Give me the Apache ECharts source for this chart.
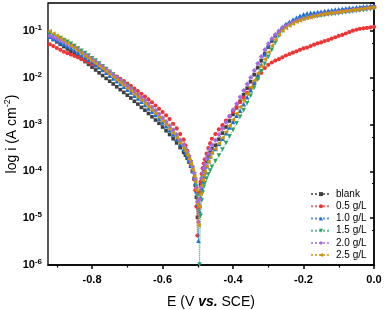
<!DOCTYPE html>
<html><head><meta charset="utf-8">
<script src="https://cdn.jsdelivr.net/npm/echarts@6/dist/echarts.min.js"></script>
<style>html,body{margin:0;padding:0;background:#fff}#c{width:387px;height:310px}</style>
</head><body><div id="c"></div>
<script>
// Potential grid (V vs. SCE)
const potential = [-0.92,-0.91,-0.90,-0.89,-0.88,-0.87,-0.86,-0.85,-0.84,-0.83,-0.82,-0.81,-0.80,-0.79,-0.78,-0.77,-0.76,-0.75,-0.74,-0.73,-0.72,-0.71,-0.70,-0.69,-0.68,-0.67,-0.66,-0.65,-0.64,-0.63,-0.62,-0.61,-0.60,-0.59,-0.58,-0.57,-0.56,-0.55,-0.54,
-0.535,-0.53,-0.525,-0.52,-0.515,-0.51,-0.507,-0.504,-0.501,-0.498,-0.495,-0.492,-0.489,-0.486,-0.483,-0.48,-0.475,-0.47,-0.465,-0.46,
-0.45,-0.44,-0.43,-0.42,-0.41,-0.40,-0.39,-0.38,-0.37,-0.36,-0.35,-0.34,-0.33,-0.32,-0.31,-0.30,-0.29,-0.28,-0.27,-0.26,-0.25,-0.24,-0.23,-0.22,-0.21,-0.20,-0.19,-0.18,-0.17,-0.16,-0.15,-0.14,-0.13,-0.12,-0.11,-0.10,-0.09,-0.08,-0.07,-0.06,-0.05,-0.04,-0.03,-0.02,-0.01,0.00];

// log10 of current density (A cm-2)
const logBlank = [-1.13,-1.18,-1.23,-1.28,-1.33,-1.38,-1.43,-1.48,-1.53,-1.59,-1.65,-1.71,-1.77,-1.83,-1.89,-1.95,-2.01,-2.07,-2.13,-2.19,-2.25,-2.31,-2.37,-2.43,-2.50,-2.56,-2.63,-2.69,-2.76,-2.83,-2.90,-2.97,-3.05,-3.13,-3.21,-3.30,-3.39,-3.49,-3.59,
-3.65,-3.72,-3.80,-3.89,-4.00,-4.15,-4.30,-4.55,-4.98,-4.70,-4.45,-4.28,-4.15,-4.05,-3.97,-3.90,-3.78,-3.68,-3.59,-3.51,
-3.44,-3.31,-3.18,-3.05,-2.92,-2.78,-2.64,-2.50,-2.36,-2.22,-2.08,-1.93,-1.78,-1.63,-1.48,-1.34,-1.21,-1.10,-1.01,-0.94,-0.88,-0.84,-0.80,-0.77,-0.74,-0.72,-0.70,-0.68,-0.66,-0.65,-0.63,-0.62,-0.61,-0.60,-0.59,-0.58,-0.57,-0.56,-0.55,-0.54,-0.53,-0.52,-0.51,-0.50,-0.49,-0.48];
const log05 = [-1.28,-1.32,-1.36,-1.40,-1.44,-1.47,-1.50,-1.53,-1.56,-1.60,-1.63,-1.67,-1.70,-1.74,-1.77,-1.81,-1.85,-1.89,-1.93,-1.97,-2.02,-2.07,-2.12,-2.17,-2.23,-2.28,-2.34,-2.40,-2.46,-2.52,-2.59,-2.66,-2.73,-2.80,-2.88,-2.98,-3.08,-3.20,-3.32,
-3.44,-3.56,-3.68,-3.82,-3.98,-4.17,-4.40,-4.75,-5.37,-4.80,-4.45,-4.22,-4.05,-3.93,-3.83,-3.74,-3.62,-3.50,-3.40,-3.30,
-3.20,-3.10,-3.01,-2.91,-2.82,-2.72,-2.62,-2.52,-2.42,-2.32,-2.22,-2.12,-2.01,-1.89,-1.79,-1.72,-1.67,-1.63,-1.60,-1.56,-1.52,-1.49,-1.46,-1.43,-1.40,-1.37,-1.35,-1.32,-1.29,-1.26,-1.24,-1.21,-1.19,-1.16,-1.13,-1.10,-1.08,-1.05,-1.02,-0.99,-0.97,-0.95,-0.94,-0.93,-0.92,-0.91];
const log10gL = [-1.12,-1.16,-1.20,-1.24,-1.28,-1.32,-1.36,-1.41,-1.46,-1.51,-1.56,-1.61,-1.66,-1.72,-1.77,-1.83,-1.89,-1.95,-2.01,-2.07,-2.13,-2.19,-2.25,-2.31,-2.38,-2.44,-2.51,-2.58,-2.65,-2.72,-2.79,-2.87,-2.95,-3.03,-3.12,-3.21,-3.31,-3.42,-3.53,
-3.60,-3.68,-3.77,-3.87,-3.99,-4.13,-4.25,-4.42,-4.70,-5.48,-4.85,-4.55,-4.36,-4.22,-4.11,-4.02,-3.89,-3.78,-3.68,-3.59,
-3.52,-3.41,-3.30,-3.18,-3.06,-2.94,-2.81,-2.70,-2.56,-2.41,-2.26,-2.10,-1.93,-1.72,-1.50,-1.30,-1.16,-1.07,-0.99,-0.91,-0.85,-0.80,-0.75,-0.71,-0.67,-0.64,-0.62,-0.61,-0.60,-0.59,-0.58,-0.57,-0.56,-0.55,-0.54,-0.53,-0.52,-0.51,-0.50,-0.50,-0.49,-0.48,-0.47,-0.47,-0.46,-0.45];
const log15 = [-1.06,-1.09,-1.12,-1.15,-1.19,-1.23,-1.27,-1.32,-1.37,-1.42,-1.47,-1.52,-1.58,-1.63,-1.69,-1.75,-1.81,-1.87,-1.93,-1.99,-2.05,-2.11,-2.17,-2.24,-2.30,-2.37,-2.44,-2.51,-2.58,-2.65,-2.73,-2.81,-2.89,-2.97,-3.06,-3.15,-3.25,-3.36,-3.47,
-3.54,-3.62,-3.71,-3.81,-3.93,-4.07,-4.18,-4.33,-4.52,-4.85,-5.99,-4.95,-4.62,-4.45,-4.33,-4.25,-4.15,-4.06,-3.98,-3.90,
-3.78,-3.66,-3.53,-3.39,-3.25,-3.11,-2.97,-2.83,-2.69,-2.54,-2.38,-2.21,-2.03,-1.86,-1.70,-1.55,-1.40,-1.25,-1.10,-0.99,-0.92,-0.87,-0.83,-0.79,-0.76,-0.73,-0.71,-0.70,-0.69,-0.68,-0.67,-0.66,-0.65,-0.64,-0.63,-0.62,-0.61,-0.60,-0.59,-0.58,-0.57,-0.56,-0.55,-0.54,-0.53,-0.52];
const log20 = [-1.10,-1.13,-1.16,-1.19,-1.23,-1.27,-1.31,-1.35,-1.40,-1.45,-1.50,-1.55,-1.60,-1.65,-1.71,-1.76,-1.82,-1.87,-1.93,-1.99,-2.05,-2.11,-2.17,-2.23,-2.29,-2.35,-2.42,-2.48,-2.55,-2.62,-2.69,-2.77,-2.85,-2.93,-3.02,-3.11,-3.21,-3.32,-3.43,
-3.50,-3.58,-3.67,-3.77,-3.89,-4.03,-4.16,-4.35,-4.65,-5.08,-4.60,-4.33,-4.15,-4.03,-3.93,-3.85,-3.73,-3.62,-3.52,-3.43,
-3.33,-3.21,-3.08,-2.95,-2.82,-2.68,-2.55,-2.41,-2.27,-2.13,-1.99,-1.84,-1.69,-1.54,-1.40,-1.27,-1.16,-1.07,-1.00,-0.94,-0.89,-0.85,-0.81,-0.78,-0.75,-0.73,-0.71,-0.69,-0.67,-0.66,-0.64,-0.63,-0.62,-0.61,-0.60,-0.59,-0.58,-0.57,-0.56,-0.55,-0.54,-0.53,-0.52,-0.51,-0.50,-0.49];
const log25 = [-1.00,-1.05,-1.10,-1.15,-1.20,-1.26,-1.31,-1.36,-1.42,-1.47,-1.53,-1.58,-1.64,-1.69,-1.75,-1.80,-1.86,-1.92,-1.98,-2.04,-2.10,-2.16,-2.22,-2.28,-2.35,-2.41,-2.48,-2.55,-2.62,-2.69,-2.76,-2.84,-2.92,-3.00,-3.09,-3.18,-3.28,-3.39,-3.50,
-3.57,-3.65,-3.74,-3.84,-3.96,-4.10,-4.22,-4.40,-4.70,-5.15,-4.75,-4.48,-4.30,-4.18,-4.08,-4.00,-3.89,-3.79,-3.69,-3.60,
-3.52,-3.40,-3.28,-3.15,-3.02,-2.89,-2.76,-2.62,-2.48,-2.34,-2.20,-2.05,-1.90,-1.75,-1.60,-1.45,-1.31,-1.18,-1.07,-0.99,-0.93,-0.88,-0.84,-0.80,-0.77,-0.74,-0.72,-0.70,-0.68,-0.66,-0.65,-0.63,-0.62,-0.61,-0.60,-0.59,-0.58,-0.57,-0.56,-0.55,-0.54,-0.53,-0.52,-0.51,-0.50,-0.49];

const seriesNames = ['blank','0.5 g/L','1.0 g/L','1.5 g/L','2.0 g/L','2.5 g/L'];
const seriesLogs = [logBlank, log05, log10gL, log15, log20, log25];
const xMajorTicks = [-0.8,-0.6,-0.4,-0.2,0.0];
const xMinorTicks = [-0.9,-0.7,-0.5,-0.3,-0.1];

const styles = [
  {color:'#3f3f3f', symbol:'rect', size:3.6, rot:0},
  {color:'#ee3535', symbol:'circle', size:4.2, rot:0},
  {color:'#1f6fd6', symbol:'triangle', size:4.6, rot:0},
  {color:'#26a56c', symbol:'triangle', size:4.6, rot:180},
  {color:'#a468e2', symbol:'diamond', size:5, rot:0},
  {color:'#c9960c', symbol:'triangle', size:4.6, rot:90}
];
const FONT = '"Liberation Sans", Arial, sans-serif';

const chart = echarts.init(document.getElementById('c'), null, {renderer:'canvas'});
const series = seriesNames.map((name, s) => ({
  name, type:'line',
  data: potential.map((e, k) => [e, Math.pow(10, seriesLogs[s][k])]),
  symbol: styles[s].symbol, symbolSize: styles[s].size, symbolRotate: styles[s].rot,
  showSymbol: true,
  lineStyle: {type:'dotted', width:1, color: styles[s].color, opacity:0.75},
  itemStyle: {color: styles[s].color},
  emphasis: {disabled:true},
  animation: false, z: 2 + s
}));

chart.setOption({
  animation: false,
  grid: {left:48, right:13, top:3, bottom:45, containLabel:false, outerBoundsMode:'none',
         show:true, borderColor:'#000', borderWidth:1.3, backgroundColor:'transparent'},
  legend: {
    orient:'vertical', left:305, top:183, itemWidth:20, itemHeight:5, itemGap:0,
    selectedMode:false, data: seriesNames,
    textStyle:{fontSize:10, lineHeight:12.2, color:'#000', fontFamily:FONT}
  },
  xAxis: [{
    type:'value', min:-0.925, max:0,
    axisLine:{lineStyle:{color:'#000', width:1.5}},
    axisTick:{customValues:xMajorTicks, length:4, lineStyle:{color:'#000', width:1.5}},
    axisLabel:{customValues:xMajorTicks, formatter:v=>v.toFixed(1), fontWeight:'bold', fontSize:11, color:'#000', margin:9, fontFamily:FONT},
    splitLine:{show:false},
    name:'E (V {b|vs.} SCE)', nameLocation:'middle', nameGap:30, nameMoveOverlap:false,
    nameTextStyle:{fontSize:14, color:'#000', fontFamily:FONT, rich:{b:{fontSize:14, fontWeight:'bold', fontStyle:'italic', fontFamily:FONT}}}
  },{
    type:'value', min:-0.925, max:0, position:'bottom',
    axisLine:{show:false},
    axisTick:{customValues:xMinorTicks, length:2.5, lineStyle:{color:'#000', width:1.2}},
    axisLabel:{show:false}, splitLine:{show:false}
  }],
  yAxis: [{
    type:'log', logBase:10, min:1e-6, max:0.4,
    axisLine:{show:true, lineStyle:{color:'#000', width:1.5}},
    axisTick:{show:true, length:4, lineStyle:{color:'#000', width:1.5}},
    minorTick:{show:true, splitNumber:2, length:2, lineStyle:{color:'#000', width:1}},
    axisLabel:{
      showMaxLabel:false,
      formatter: v => '10{sup|' + Math.round(Math.log10(v)) + '}',
      fontWeight:'bold', fontSize:11, color:'#000', margin:6, fontFamily:FONT, lineHeight:14,
      rich:{sup:{fontSize:8, fontWeight:'bold', color:'#000', verticalAlign:'top', lineHeight:14, fontFamily:FONT}}
    },
    splitLine:{show:false},
    name:'log i (A cm{sup|-2})', nameLocation:'middle', nameGap:27, nameMoveOverlap:false,
    nameTextStyle:{fontSize:14, color:'#000', fontFamily:FONT, lineHeight:18,
      rich:{sup:{fontSize:9, verticalAlign:'top', lineHeight:18, fontFamily:FONT}}}
  }],
  series
});
</script></body></html>
